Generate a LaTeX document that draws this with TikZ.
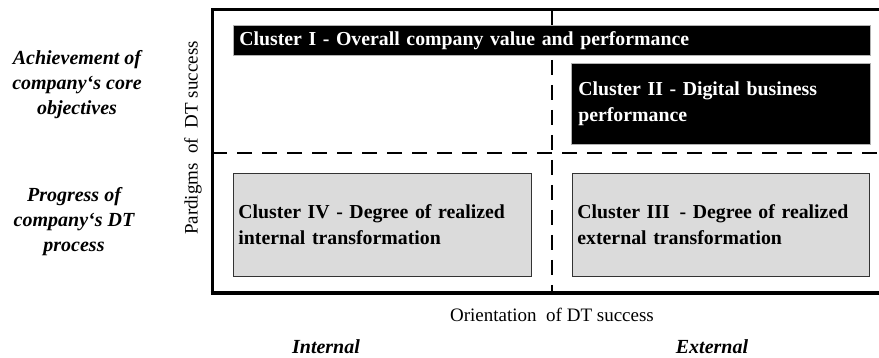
\documentclass[tikz,border=0pt]{standalone}
\usepackage{fontspec}
\setmainfont{Liberation Serif}
\begin{document}
\begin{tikzpicture}[x=1pt,y=-1pt,
  frameline/.style={line width=3pt},
  divline/.style={line width=2.8pt, dash pattern=on 15pt off 10pt},
  darkbox/.style={fill=black, draw=gray!60, line width=0.6pt, text=white, inner xsep=6pt, inner ysep=0pt,
     font=\fontsize{19.8}{26}\selectfont\bfseries, align=left},
  lightbox/.style={fill=gray!28, draw=gray!40!black, line width=0.8pt, text=black, inner xsep=5pt, inner ysep=0pt,
     font=\fontsize{19.8}{26}\selectfont\bfseries, align=left},
  sidelabel/.style={font=\fontsize{20}{25}\selectfont\bfseries\itshape, align=center},
  axislabel/.style={font=\fontsize{19}{23}\selectfont}
]
\useasboundingbox (0,0) rectangle (879,358);

% frame corners
\coordinate (tl) at (212,10);
\coordinate (tr) at (879,10);
\coordinate (bl) at (212,293);
\coordinate (br) at (879,293);
\coordinate (vt) at (552,10);
\coordinate (vb) at (552,293);
\coordinate (hl) at (212,153);
\coordinate (hr) at (879,153);

% dashed dividers
\draw[divline, line width=2.4pt] (vt) -- (vb);
\draw[divline] (hl) -- (hr);

% frame
\draw[frameline] (tr) -- (tl) -- ([yshift=1pt]bl);
\draw[line width=4pt] ([xshift=-1.5pt]bl) -- (br);

% cluster boxes
\node[darkbox, minimum width=637pt, minimum height=30pt, text width=625pt, anchor=north west] (c1) at (233,25)
  {Cluster I - Overall company value and performance};
\node[darkbox, minimum width=299pt, minimum height=81pt, text width=285pt, anchor=north west, inner xsep=7pt] (c2) at (571,63)
  {Cluster II - Digital business\\performance};
\node[lightbox, minimum width=298pt, minimum height=103pt, text width=288pt, anchor=north west] (c4) at (233,173)
  {Cluster IV - Degree of realized\\internal transformation};
\node[lightbox, minimum width=297pt, minimum height=103pt, text width=287pt, anchor=north west] (c3) at (572,173)
  {Cluster III \,- Degree of realized\\external transformation};

% side labels
\node[sidelabel] (ach) at (77,85) {Achievement of\\company‘s core\\objectives};
\node[sidelabel] (prog) at (74,222) {Progress of\\company‘s DT\\process};

% axis labels
\node[axislabel, rotate=90] (ylab) at (193,138) {Pardigms \ of \ DT success};
\node[axislabel] (xlab) at (552,315) {Orientation \ of DT success};

\node[sidelabel] (int) at (326,347) {Internal};
\node[sidelabel] (ext) at (712,347) {External};
\end{tikzpicture}
\end{document}
